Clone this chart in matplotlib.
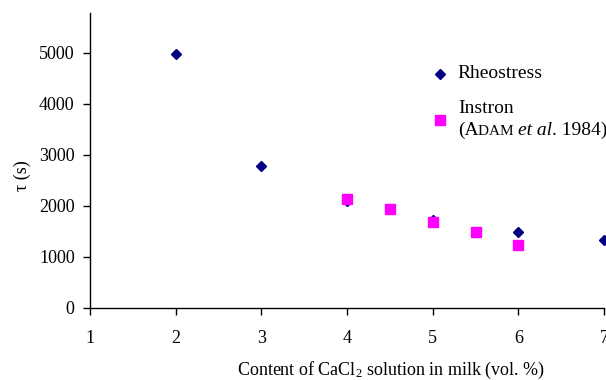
import matplotlib
matplotlib.use("Agg")
import matplotlib.pyplot as plt
from matplotlib.lines import Line2D
from matplotlib.offsetbox import (AnchoredOffsetbox, DrawingArea, HPacker,
                                  TextArea, VPacker)

plt.rcParams['font.family'] = ['Liberation Serif', 'DejaVu Serif']
plt.rcParams['font.size'] = 13
plt.rcParams['mathtext.fontset'] = 'custom'
plt.rcParams['mathtext.rm'] = 'Liberation Serif'
plt.rcParams['mathtext.it'] = 'Liberation Serif:italic'

# data
rheo_x = [2, 3, 4, 5, 6, 7]
rheo_tau = [4970, 2780, 2090, 1730, 1480, 1330]
instron_x = [4, 4.5, 5, 5.5, 6]
instron_tau = [2140, 1930, 1680, 1480, 1240]

rheo_color = '#000080'
instron_color = '#FF00FF'

fig = plt.figure(figsize=(6.06, 3.80), dpi=100)
ax = fig.add_axes([90/606, 1 - 308/380, 514/606, 295/380])

ax.plot(rheo_x, rheo_tau, linestyle='none', marker='D', ms=5.2,
        color=rheo_color, clip_on=False, zorder=3)
ax.plot(instron_x, instron_tau, linestyle='none', marker='s', ms=7.6,
        color=instron_color, clip_on=False, zorder=4)

ax.set_xlim(1, 7)
ax.set_ylim(0, 5780)
ax.set_xticks([1, 2, 3, 4, 5, 6, 7])
ax.set_yticks([0, 1000, 2000, 3000, 4000, 5000])

for s in ['top', 'right']:
    ax.spines[s].set_visible(False)
for s in ['left', 'bottom']:
    ax.spines[s].set_linewidth(1.0)
ax.tick_params(direction='out', length=5, width=1)
ax.tick_params(axis='x', pad=11)
ax.tick_params(axis='y', pad=6)

ax.set_xlabel('Content of CaCl$_2$ solution in milk (vol. %)')
ax.xaxis.set_label_coords(0.585, -0.175)
ax.set_ylabel('τ (s)')
ax.yaxis.set_label_coords(-0.115, 0.45)


# legend built by hand so that "ADAM" can be set in small caps
def marker_box(marker, ms, color):
    da = DrawingArea(10, 10, 0, 0)
    da.add_artist(Line2D([5], [5], marker=marker, ms=ms, color=color,
                         linestyle='none'))
    return da


big = dict(size=14)
small = dict(size=11)
row1 = HPacker(children=[marker_box('D', 5.2, rheo_color),
                         TextArea('Rheostress', textprops=big)],
               align='center', pad=0, sep=8)
ref_line = HPacker(children=[TextArea('(A', textprops=big),
                             TextArea('DAM ', textprops=small),
                             TextArea('et al', textprops=dict(size=14, style='italic')),
                             TextArea('. 1984)', textprops=big)],
                   align='baseline', pad=0, sep=0)
inst_text = VPacker(children=[TextArea('Instron', textprops=big), ref_line],
                    align='left', pad=0, sep=3.5)
row2 = HPacker(children=[marker_box('s', 7.6, instron_color), inst_text],
               align='center', pad=0, sep=8)
leg = VPacker(children=[row1, row2], align='left', pad=0, sep=13)
ax.add_artist(AnchoredOffsetbox(loc='upper left', child=leg, pad=0, borderpad=0,
                                bbox_to_anchor=(0.667, 0.823),
                                bbox_transform=ax.transAxes, frameon=False))

fig.savefig('out.png', dpi=100)
